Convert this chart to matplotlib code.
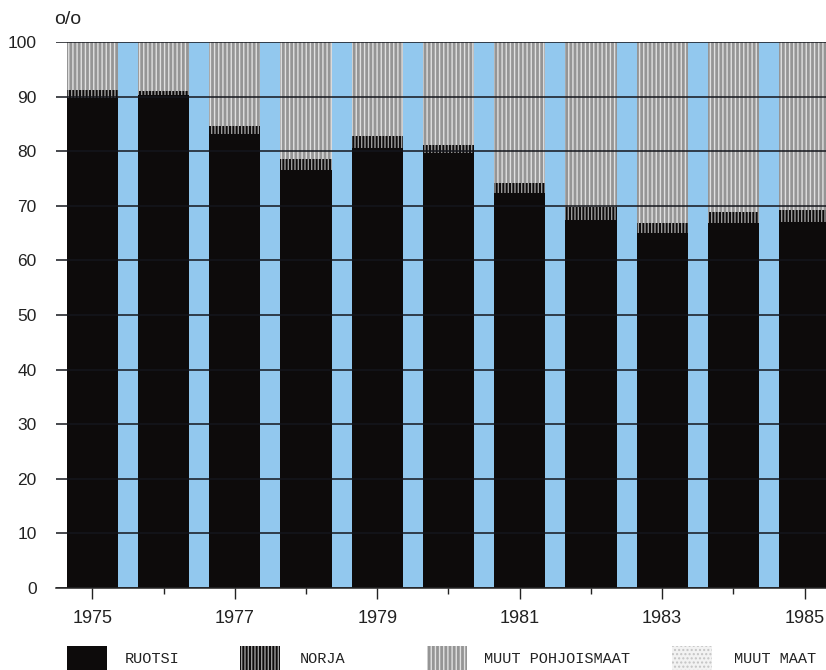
import matplotlib
matplotlib.use("Agg")
import matplotlib.pyplot as plt
from matplotlib.patches import Rectangle
import numpy as np

years = [1975, 1976, 1977, 1978, 1979, 1980, 1981, 1982, 1983, 1984, 1985]
ruotsi = [89.8, 90.3, 83.1, 76.5, 80.6, 79.6, 72.3, 67.4, 65.0, 66.9, 67.1]
norja = [1.4, 0.7, 1.6, 2.0, 2.2, 1.5, 1.9, 2.3, 1.9, 2.0, 2.2]
muut_pohjoismaat = [8.8, 9.0, 15.3, 21.5, 17.2, 18.9, 25.8, 30.3, 33.1, 31.1, 30.7]
muut_maat = [0, 0, 0, 0, 0, 0, 0, 0, 0, 0, 0]
series_labels = ["RUOTSI", "NORJA", "MUUT POHJOISMAAT", "MUUT MAAT"]
yticks = [0, 10, 20, 30, 40, 50, 60, 70, 80, 90, 100]
xtick_labels = ["1975", "1977", "1979", "1981", "1983", "1985"]

plt.rcParams['hatch.linewidth'] = 1.0

fig = plt.figure(figsize=(8.26, 6.70), dpi=100)
ax = fig.add_axes([56/826, 1-588/670, 1-56/826, (588-42)/670])

width = 0.72
x = np.array(years, dtype=float)
blue = '#92c8ee'

# blue gaps between bars
for i in range(len(x) - 1):
    ax.axvspan(x[i] + width/2, x[i+1] - width/2, ymin=0, ymax=1, color=blue, lw=0, zorder=0)

styles = [
    dict(facecolor='#0d0b0b', edgecolor='#0d0b0b', hatch=None),
    dict(facecolor='#0d0b0b', edgecolor='#9a9a9a', hatch='|||||'),
    dict(facecolor='#959595', edgecolor='#e0e0e0', hatch='||||'),
    dict(facecolor='#f2f2f2', edgecolor='#c4c4c4', hatch='....'),
]
data = [ruotsi, norja, muut_pohjoismaat, muut_maat]
bottom = np.zeros(len(x))
for vals, st in zip(data, styles):
    v = np.array(vals, dtype=float)
    ax.bar(x, v, width=width, bottom=bottom, facecolor=st['facecolor'],
           edgecolor=st['edgecolor'], hatch=st['hatch'], linewidth=0, zorder=2)
    bottom += v

ax.set_xlim(1974.49, 1985.3)
ax.set_ylim(0, 100)
ax.set_yticks(yticks)
ax.set_yticklabels([str(t) for t in yticks], fontsize=12.5, family='Liberation Sans', color='#222222')
ax.yaxis.grid(True, color='#14161c', lw=1.1, zorder=3)
ax.set_axisbelow(False)
ax.tick_params(axis='y', length=0, pad=14)

ax.set_xticks([1975, 1977, 1979, 1981, 1983, 1985])
ax.set_xticklabels(xtick_labels, fontsize=13, family='Liberation Sans', color='#222222')
ax.set_xticks([1976, 1978, 1980, 1982, 1984], minor=True)
ax.tick_params(axis='x', which='major', length=8, width=1, pad=8, color='#222222')
ax.tick_params(axis='x', which='minor', length=4, width=1, color='#222222')

for s in ['left', 'right', 'top']:
    ax.spines[s].set_visible(False)
ax.spines['bottom'].set_color('#222222')
ax.spines['bottom'].set_linewidth(1.1)
ax.spines['bottom'].set_zorder(4)

fig.text(54/826, 1-19/670, "o/o", fontsize=14, family='Liberation Sans', va='center', ha='left', color='#222222')

# legend
patch_x = [67, 240, 427, 672]
text_x = [125, 300, 484, 734]
for px, tx, lab, st in zip(patch_x, text_x, series_labels, styles):
    r = Rectangle((px/826, 0), 40/826, (670-646)/670, transform=fig.transFigure,
                  facecolor=st['facecolor'], edgecolor=st['edgecolor'], hatch=st['hatch'], lw=0)
    fig.patches.append(r)
    fig.text(tx/826, 1-659/670, lab, fontsize=11, family='Liberation Mono', va='center', ha='left', color='#222222')

fig.savefig("out.png", dpi=100)
